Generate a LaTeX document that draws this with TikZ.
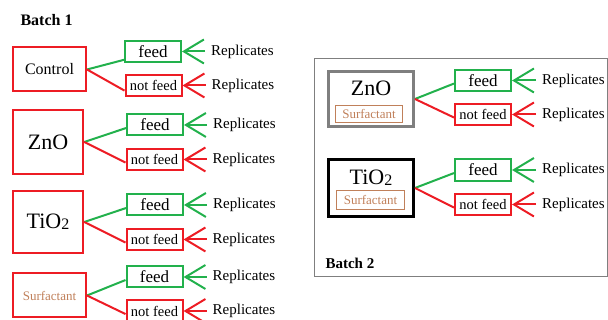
\documentclass[tikz,border=0pt]{standalone}
\usepackage{fontspec}
\setmainfont{Liberation Serif}
\usetikzlibrary{positioning,arrows.meta}
\definecolor{boxred}{HTML}{ED1C24}
\definecolor{boxgreen}{HTML}{22B14C}
\definecolor{surfbrown}{HTML}{C0805A}
\definecolor{framegray}{HTML}{7F7F7F}

\begin{document}
\begin{tikzpicture}[x=1pt,y=-1pt,
		sample/.style={draw=boxred,line width=2pt,minimum width=73pt,minimum height=44pt,inner sep=0pt,font=\fontsize{16}{16}\selectfont},
		bigsample/.style={sample,line width=2.5pt,font=\fontsize{22}{22}\selectfont},
		fed/.style={draw=boxgreen,line width=2pt,minimum width=56pt,minimum height=21pt,inner sep=1pt,font=\fontsize{17}{17}\selectfont},
		unfed/.style={draw=boxred,line width=2pt,minimum width=56pt,minimum height=21pt,inner sep=1pt,font=\fontsize{14.5}{14.5}\selectfont},
		rep/.style={inner sep=3pt,font=\fontsize{15}{15}\selectfont},
		surfbox/.style={draw=surfbrown,line width=1pt,text=surfbrown,inner sep=1pt,minimum width=67pt,minimum height=17pt,font=\fontsize{13}{13}\selectfont},
		gline/.style={boxgreen,line width=2pt},
		rline/.style={boxred,line width=2pt},
		garrow/.style={gline,-{Straight Barb[length=20pt,width=24pt]},shorten <=3pt},
		rarrow/.style={rline,-{Straight Barb[length=20pt,width=24pt]},shorten <=3pt}]
	\useasboundingbox (0,0) rectangle (608,320);

	\node[anchor=west,font=\bfseries\fontsize{16}{16}\selectfont] (batchone) at (17,20) {Batch 1};

	\node[sample] (ctl) at (49.5,69.5) {Control};
	\node[fed] (ctlf) at (153,51.5) {feed};
	\node[unfed] (ctln) at (153.5,85.5) {not feed};
	\node[rep,right=26pt of ctlf] (ctlfr) {Replicates};
	\node[rep,right=26pt of ctln] (ctlnr) {Replicates};
	\draw[gline] (ctl.east) -- (ctlf.196);
	\draw[rline] (ctl.east) -- (ctln.190);
	\draw[garrow] (ctlfr) -- (ctlf);
	\draw[rarrow] (ctlnr) -- (ctln);

	\node[bigsample,minimum width=70pt,minimum height=64pt] (zno) at (48,142) {ZnO};
	\node[fed] (znof) at (155,125) {feed};
	\node[unfed] (znon) at (154.5,159.5) {not feed};
	\node[rep,right=26pt of znof] (znofr) {Replicates};
	\node[rep,right=26pt of znon] (znonr) {Replicates};
	\draw[gline] (zno.east) -- (znof.186);
	\draw[rline] (zno.east) -- (znon.186);
	\draw[garrow] (znofr) -- (znof);
	\draw[rarrow] (znonr) -- (znon);

	\node[bigsample,minimum width=70pt,minimum height=62pt] (tio) at (48,222) {TiO\raisebox{-1pt}{\fontsize{16}{16}\selectfont 2}};
	\node[fed] (tiof) at (155,205) {feed};
	\node[unfed] (tion) at (154.5,239.5) {not feed};
	\node[rep,right=26pt of tiof] (tiofr) {Replicates};
	\node[rep,right=26pt of tion] (tionr) {Replicates};
	\draw[gline] (tio.east) -- (tiof.186);
	\draw[rline] (tio.east) -- (tion.186);
	\draw[garrow] (tiofr) -- (tiof);
	\draw[rarrow] (tionr) -- (tion);

	\node[sample,text=surfbrown,font=\fontsize{13}{13}\selectfont] (surf) at (49.5,295.5) {Surfactant};
	\node[fed] (surff) at (154.5,277) {feed};
	\node[unfed] (surfn) at (154.5,311) {not feed};
	\node[rep,right=26pt of surff] (surffr) {Replicates};
	\node[rep,right=26pt of surfn] (surfnr) {Replicates};
	\draw[gline] (surf.east) -- (surff.186);
	\draw[rline] (surf.east) -- (surfn.186);
	\draw[garrow] (surffr) -- (surff);
	\draw[rarrow] (surfnr) -- (surfn);

	\draw[framegray,line width=1pt] (314,59) rectangle (607,277);

	\node[draw=framegray,line width=3pt,minimum width=85pt,minimum height=55pt] (rzno) at (371,99) {};
	\node[font=\fontsize{22}{22}\selectfont] (rznot) at (371,88) {ZnO};
	\node[surfbox] (rznos) at (369,114) {Surfactant};
	\node[fed] (rznof) at (483,80.5) {feed};
	\node[unfed] (rznon) at (483,114.5) {not feed};
	\node[rep,right=27pt of rznof] (rznofr) {Replicates};
	\node[rep,right=27pt of rznon] (rznonr) {Replicates};
	\draw[gline] (rzno.east) -- (rznof.186);
	\draw[rline] (rzno.east) -- (rznon.186);
	\draw[garrow] (rznofr) -- (rznof);
	\draw[rarrow] (rznonr) -- (rznon);

	\node[draw=black,line width=3pt,minimum width=85pt,minimum height=57pt] (rtio) at (371,188) {};
	\node[font=\fontsize{22}{22}\selectfont] (rtiot) at (371,178) {TiO\raisebox{-1pt}{\fontsize{16}{16}\selectfont 2}};
	\node[surfbox,minimum width=68pt,minimum height=19pt] (rtios) at (370.5,200) {Surfactant};
	\node[fed,minimum height=22pt] (rtiof) at (483,170) {feed};
	\node[unfed] (rtion) at (483,204.5) {not feed};
	\node[rep,right=27pt of rtiof] (rtiofr) {Replicates};
	\node[rep,right=27pt of rtion] (rtionr) {Replicates};
	\draw[gline] (rtio.east) -- (rtiof.186);
	\draw[rline] (rtio.east) -- (rtion.186);
	\draw[garrow] (rtiofr) -- (rtiof);
	\draw[rarrow] (rtionr) -- (rtion);

	\node[anchor=west,font=\bfseries\fontsize{15}{15}\selectfont] (batchtwo) at (322,263) {Batch 2};
\end{tikzpicture}
\end{document}
